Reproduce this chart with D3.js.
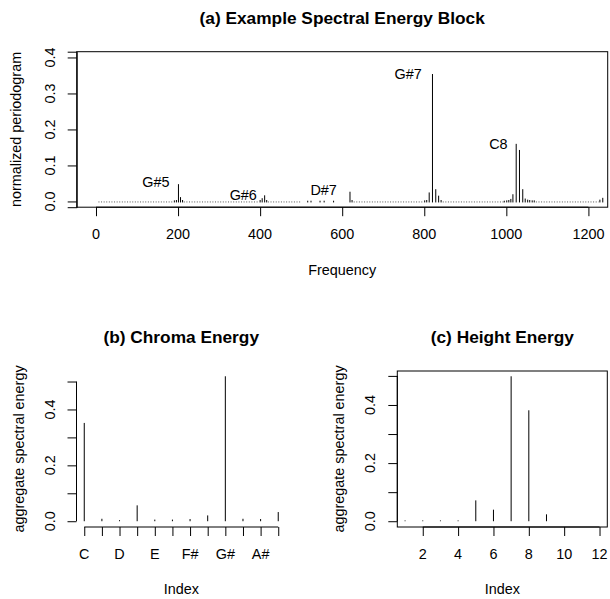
<!DOCTYPE html>
<html><head><meta charset="utf-8">
<script src="https://cdn.jsdelivr.net/npm/d3@7"></script>
<style>
body{margin:0;background:#fff;}
text{font-family:"Liberation Sans",Arial,Helvetica,sans-serif;fill:#000;}
</style></head>
<body><svg id="c" width="610" height="599"></svg>
<script>
// ---------- data ----------
// (a) spectral block: notable spikes [frequency, normalized periodogram]
const spikeFreq = [191,196,201,206,211, 400,405,411,416, 516,524,546,556,579, 619,624,
  801,806,812,820,828,835,841, 995,1001,1006,1011,1016,1024,1032,1040,1046,1052,1057,1063,1068, 1228,1235];
const spikeVal  = [0.003,0.004,0.048,0.012,0.004, 0.004,0.009,0.017,0.004, 0.002,0.002,0.002,0.002,0.002, 0.027,0.004,
  0.003,0.004,0.025,0.354,0.034,0.016,0.004, 0.002,0.003,0.004,0.007,0.020,0.160,0.143,0.034,0.008,0.005,0.004,0.003,0.003, 0.005,0.010];
// ranges of frequencies where the periodogram is ~0 (drawn as a dotted floor)
const floorStart = [6, 214, 419, 628, 845, 1072];
const floorEnd   = [189, 398, 500, 799, 993, 1225];
const noteNames = ["G#5","G#6","D#7","G#7","C8"];
const noteFreq  = [179, 392, 587, 794, 1003];
const noteVal   = [0.053, 0.018, 0.032, 0.354, 0.160];
const freqTicks = [0,200,400,600,800,1000,1200];
const periodTicks = [0,0.1,0.2,0.3,0.4];

// (b) chroma energy
const chromaNames = ["C","C#","D","D#","E","F","F#","G","G#","A","A#","B"];
const chromaVal = [0.350,0.007,0.002,0.055,0.004,0.004,0.006,0.019,0.517,0.007,0.006,0.031];
// (c) height energy
const heightIdx = [1,2,3,4,5,6,7,8,9,10,11,12];
const heightVal = [0.001,0.001,0.001,0.001,0.070,0.038,0.497,0.380,0.022,0,0,0];
const heightTicks = [2,4,6,8,10,12];
const energyTicks = [0,0.1,0.2,0.3,0.4,0.5];
const energyLabels = [0,0.2,0.4];

// ---------- drawing ----------
const svg = d3.select("#c");
const FS = 14.4, TFS = 17.3;
const fmt1 = d3.format(".1f");

function rPad(lo, hi){ const r = hi - lo; return [lo - 0.04*r, hi + 0.04*r]; }

function yAxisR(g, y, x0, ticks, labels, labX){
  g.append("g").attr("transform",`translate(${x0},0)`)
    .call(d3.axisLeft(y).tickValues(ticks).tickSize(9).tickFormat(""))
    .call(a=>a.selectAll("path,line").attr("stroke","#000"));
  labels.forEach(v=>{
    g.append("text").attr("transform",`translate(${labX},${y(v)}) rotate(-90)`)
      .attr("text-anchor","middle").attr("dy","0.35em").style("font-size",FS+"px").text(fmt1(v));
  });
}

// ===== panel (a) =====
{
  const L=76.7,R=607.7,T=51.7,B=207.2;
  const x = d3.scaleLinear().domain([-47,1247]).range([L,R]);
  const y = d3.scaleLinear().domain(rPad(0,0.4)).range([B,T]);
  const g = svg.append("g");
  // floor dots
  floorStart.forEach((s,i)=>{
    g.append("line").attr("x1",x(s)).attr("x2",x(floorEnd[i])).attr("y1",y(0)+0.5).attr("y2",y(0)+0.5)
      .attr("stroke","#555").attr("stroke-width",1).attr("stroke-dasharray","1 1.6");
  });
  spikeFreq.forEach((f,i)=>{
    g.append("line").attr("x1",x(f)).attr("x2",x(f)).attr("y1",y(0)+1).attr("y2",Math.min(y(spikeVal[i]), y(0)))
      .attr("stroke","#000").attr("stroke-width",1);
  });
  g.append("rect").attr("x",L).attr("y",T).attr("width",R-L).attr("height",B-T)
    .attr("fill","none").attr("stroke","#000");
  g.append("g").attr("transform",`translate(0,${B})`)
    .call(d3.axisBottom(x).tickValues(freqTicks).tickSize(9).tickFormat(""))
    .call(a=>{a.select(".domain").attr("stroke","#000").attr("d",`M${x(0)},0H${x(1200)}`);a.selectAll("line").attr("stroke","#000");});
  freqTicks.forEach(v=>g.append("text").attr("x",x(v)).attr("y",B+32).attr("text-anchor","middle").style("font-size",FS+"px").text(v));
  yAxisR(g, y, L, periodTicks, periodTicks, 50);
  noteNames.forEach((n,i)=>g.append("text").attr("x",x(noteFreq[i])).attr("y",y(noteVal[i])).attr("dy","0.35em")
    .attr("text-anchor","end").style("font-size",FS+"px").text(n));
  g.append("text").attr("x",(L+R)/2).attr("y",24).attr("text-anchor","middle").style("font-size",TFS+"px")
    .style("font-weight","bold").text("(a) Example Spectral Energy Block");
  g.append("text").attr("x",(L+R)/2).attr("y",B+68).attr("text-anchor","middle").style("font-size",FS+"px").text("Frequency");
  g.append("text").attr("transform",`translate(16,${(T+B)/2}) rotate(-90)`).attr("text-anchor","middle")
    .attr("dy","0.35em").style("font-size",FS+"px").text("normalized periodogram");
}

// ===== panel (b) =====
{
  const L=76.5,R=286,T=371,B=527;
  const idx = chromaNames.map((d,i)=>i+1);
  const x = d3.scaleLinear().domain(rPad(1,12)).range([L,R]);
  const y = d3.scaleLinear().domain(rPad(0,d3.max(chromaVal))).range([B,T]);
  const g = svg.append("g");
  chromaVal.forEach((v,i)=>{
    g.append("line").attr("x1",x(idx[i])).attr("x2",x(idx[i])).attr("y1",y(0)).attr("y2",y(v)-0.5)
      .attr("stroke","#000").attr("stroke-width",1);
  });
  g.append("g").attr("transform",`translate(0,${B})`)
    .call(d3.axisBottom(x).tickValues(idx).tickSize(9).tickSizeOuter(0).tickFormat(""))
    .call(a=>{a.select(".domain").attr("stroke","#000").attr("d",`M${x(1)},0H${x(12)}`);a.selectAll("line").attr("stroke","#000");});
  chromaNames.forEach((n,i)=>{ if(i%2===0) g.append("text").attr("x",x(idx[i])).attr("y",B+32).attr("text-anchor","middle").style("font-size",FS+"px").text(n);});
  g.append("g").attr("transform",`translate(${L},0)`)
    .call(d3.axisLeft(y).tickValues(energyTicks).tickSize(9).tickFormat(""))
    .call(a=>{a.select(".domain").attr("stroke","#000").attr("d",`M0,${y(0)}V${y(0.5)}`);a.selectAll("line").attr("stroke","#000");});
  energyLabels.forEach(v=>g.append("text").attr("transform",`translate(${L-27},${y(v)}) rotate(-90)`)
      .attr("text-anchor","middle").attr("dy","0.35em").style("font-size",FS+"px").text(fmt1(v)));
  g.append("text").attr("x",(L+R)/2).attr("y",343).attr("text-anchor","middle").style("font-size",TFS+"px")
    .style("font-weight","bold").text("(b) Chroma Energy");
  g.append("text").attr("x",(L+R)/2).attr("y",B+67).attr("text-anchor","middle").style("font-size",FS+"px").text("Index");
  g.append("text").attr("transform",`translate(${L-58},${(T+B)/2}) rotate(-90)`).attr("text-anchor","middle")
    .attr("dy","0.35em").style("font-size",FS+"px").text("aggregate spectral energy");
}

// ===== panel (c) =====
{
  const L=397.3,R=607.3,T=371,B=527;
  const x = d3.scaleLinear().domain(rPad(1,12)).range([L,R]);
  const y = d3.scaleLinear().domain(rPad(0,d3.max(heightVal))).range([B,T]);
  const g = svg.append("g");
  heightVal.forEach((v,i)=>{
    if(v<=0) return;
    g.append("line").attr("x1",x(heightIdx[i])).attr("x2",x(heightIdx[i])).attr("y1",y(0)).attr("y2",y(v)-0.5)
      .attr("stroke","#000").attr("stroke-width",1);
  });
  g.append("rect").attr("x",L).attr("y",T).attr("width",R-L).attr("height",B-T).attr("fill","none").attr("stroke","#000");
  g.append("g").attr("transform",`translate(0,${B})`)
    .call(d3.axisBottom(x).tickValues(heightTicks).tickSize(9).tickFormat(""))
    .call(a=>{a.select(".domain").attr("stroke","#000").attr("d",`M${x(2)},0H${x(12)}`);a.selectAll("line").attr("stroke","#000");});
  heightTicks.forEach(v=>g.append("text").attr("x",x(v)).attr("y",B+32).attr("text-anchor","middle").style("font-size",FS+"px").text(v));
  g.append("g").attr("transform",`translate(${L},0)`)
    .call(d3.axisLeft(y).tickValues(energyTicks).tickSize(9).tickFormat(""))
    .call(a=>{a.select(".domain").attr("stroke","#000").attr("d",`M0,${y(0)}V${y(0.5)}`);a.selectAll("line").attr("stroke","#000");});
  energyLabels.forEach(v=>g.append("text").attr("transform",`translate(${L-27},${y(v)}) rotate(-90)`)
      .attr("text-anchor","middle").attr("dy","0.35em").style("font-size",FS+"px").text(fmt1(v)));
  g.append("text").attr("x",(L+R)/2).attr("y",343).attr("text-anchor","middle").style("font-size",TFS+"px")
    .style("font-weight","bold").text("(c) Height Energy");
  g.append("text").attr("x",(L+R)/2).attr("y",B+67).attr("text-anchor","middle").style("font-size",FS+"px").text("Index");
  g.append("text").attr("transform",`translate(${L-58},${(T+B)/2}) rotate(-90)`).attr("text-anchor","middle")
    .attr("dy","0.35em").style("font-size",FS+"px").text("aggregate spectral energy");
}
</script></body></html>
